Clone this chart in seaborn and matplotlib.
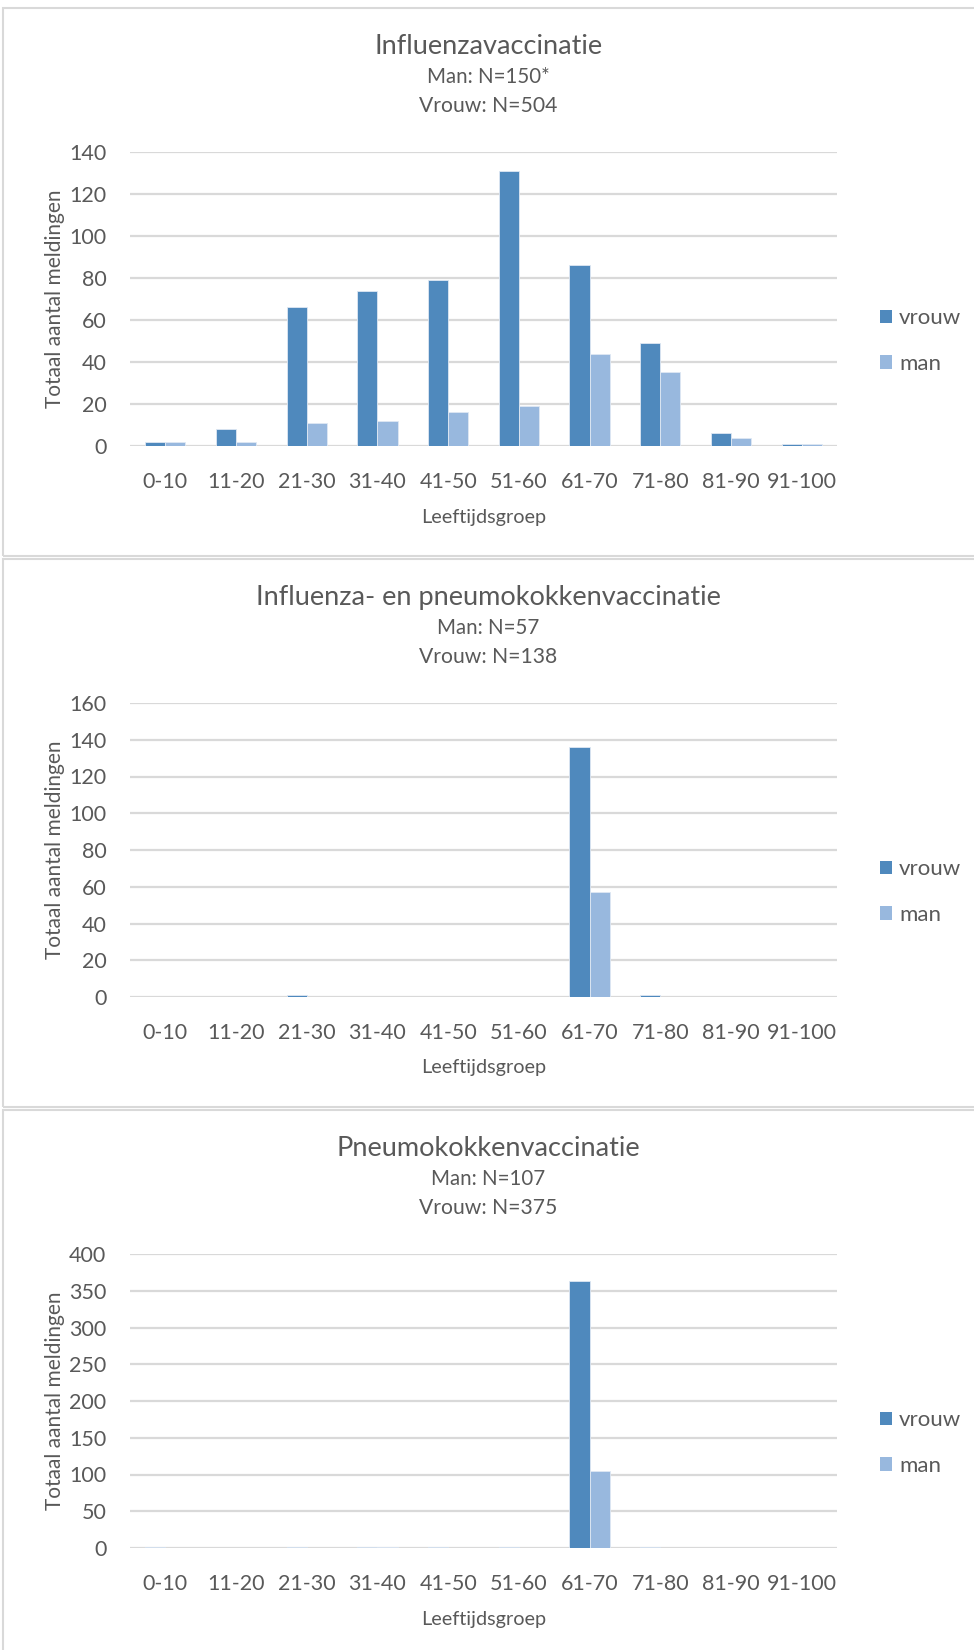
import matplotlib
matplotlib.use("Agg")
import matplotlib.pyplot as plt
import pandas as pd
import seaborn as sns
from matplotlib.patches import Rectangle, Patch

# ---- data -------------------------------------------------------------
age_groups = ["0-10", "11-20", "21-30", "31-40", "41-50",
              "51-60", "61-70", "71-80", "81-90", "91-100"]

influenza_vrouw = [2, 8, 66, 74, 79, 131, 86, 49, 6, 1]
influenza_man = [2, 2, 11, 12, 16, 19, 44, 35, 4, 1]

combi_vrouw = [0, 0, 1, 0, 0, 0, 136, 1, 0, 0]
combi_man = [0, 0, 0, 0, 0, 0, 57, 0, 0, 0]

pneumo_vrouw = [2, 0, 2, 2, 2, 2, 363, 2, 0, 0]
pneumo_man = [0, 0, 0, 2, 0, 0, 105, 0, 0, 0]

titles = ["Influenzavaccinatie",
          "Influenza- en pneumokokkenvaccinatie",
          "Pneumokokkenvaccinatie"]
man_counts = ["Man: N=150*", "Man: N=57", "Man: N=107"]
vrouw_counts = ["Vrouw: N=504", "Vrouw: N=138", "Vrouw: N=375"]
y_max = [140, 160, 400]
y_step = [20, 20, 50]

series = [(influenza_vrouw, influenza_man),
          (combi_vrouw, combi_man),
          (pneumo_vrouw, pneumo_man)]

sexes = ["vrouw", "man"]
colors = {"vrouw": "#4F89BD", "man": "#98B8DE"}
text_color = "#595959"
grid_color = "#D9D9D9"

# ---- figure -----------------------------------------------------------
sns.set_theme(style="white")
plt.rcParams["font.family"] = ["Lato", "DejaVu Sans"]

W, H = 974, 1650
fig = plt.figure(figsize=(W / 100, H / 100), dpi=100)
fig.patch.set_facecolor("white")


def fx(px):
    return px / W


def fy(py):
    return 1 - py / H


panel_tops = [8, 559, 1110]
panel_bottoms = [556, 1107, 1660]
ax_left, ax_right = 130, 837
cx = 0.5 * (fx(3) + 1)

for i, (vrouw, man) in enumerate(series):
    top = panel_tops[i]

    # panel frame
    fig.patches.append(Rectangle(
        (fx(3), fy(panel_bottoms[i])), fx(990 - 3),
        (panel_bottoms[i] - top) / H,
        transform=fig.transFigure, facecolor="none",
        edgecolor=grid_color, linewidth=1.5, zorder=0))

    # titles
    fig.text(cx, fy(top + 39), titles[i], ha="center",
             va="center", fontsize=19.5, color=text_color)
    fig.text(cx, fy(top + 69), man_counts[i], ha="center",
             va="center", fontsize=14.8, color=text_color)
    fig.text(cx, fy(top + 98), vrouw_counts[i], ha="center",
             va="center", fontsize=15.2, color=text_color)

    a_top, a_bot = top + 144, top + 438
    ax = fig.add_axes([fx(ax_left), fy(a_bot), fx(ax_right - ax_left),
                       (a_bot - a_top) / H])

    df = pd.DataFrame({
        "groep": age_groups * 2,
        "geslacht": ["vrouw"] * len(age_groups) + ["man"] * len(age_groups),
        "aantal": list(vrouw) + list(man),
    })
    sns.barplot(data=df, x="groep", y="aantal", hue="geslacht",
                order=age_groups, hue_order=sexes, palette=colors,
                saturation=1, width=0.57, errorbar=None, legend=False,
                ax=ax, edgecolor="#dfe8f3", linewidth=0.6)

    ax.set_xlim(-0.5, len(age_groups) - 0.5)
    ax.set_ylim(0, y_max[i])
    ax.set_yticks(range(0, y_max[i] + 1, y_step[i]))
    ax.set_axisbelow(True)
    ax.grid(axis="y", color=grid_color, linewidth=1.6)
    ax.grid(axis="x", visible=False)
    for s in ax.spines.values():
        s.set_visible(False)
    ax.tick_params(axis="both", length=0, labelsize=15.5,
                   labelcolor=text_color)
    ax.tick_params(axis="y", pad=17)
    ax.tick_params(axis="x", pad=19)

    ax.set_xlabel("Leeftijdsgroep", fontsize=14.3, color=text_color,
                  va="center")
    ax.xaxis.set_label_coords(0.5, -71 / (a_bot - a_top))
    ax.set_ylabel("Totaal aantal meldingen", fontsize=15, color=text_color,
                  va="center")
    ax.yaxis.set_label_coords(-75 / (ax_right - ax_left), 0.5)

    handles = [Patch(facecolor=colors[s], edgecolor="none") for s in sexes]
    ax.legend(handles, sexes, loc="center left",
              bbox_to_anchor=(fx(880), fy(top + 333)),
              bbox_transform=fig.transFigure, frameon=False,
              fontsize=16, labelcolor=text_color, handlelength=0.55,
              handleheight=0.55, handletextpad=0.3, labelspacing=1.15,
              borderpad=0, borderaxespad=0)

fig.savefig("out.png", dpi=100, facecolor="white")
